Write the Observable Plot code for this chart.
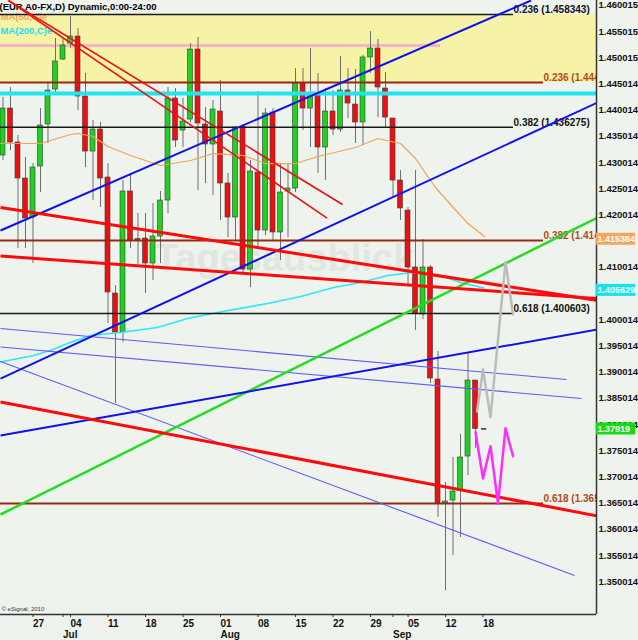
<!DOCTYPE html>
<html><head><meta charset="utf-8">
<script src="https://cdn.jsdelivr.net/npm/d3@7"></script>
<script src="https://cdn.jsdelivr.net/npm/@observablehq/plot@0.6"></script>
<style>
html,body{margin:0;padding:0;background:#eef4ed;}
#chart{width:638px;height:640px;overflow:hidden;}
</style></head><body><div id="chart"></div>
<script>
// ---- daily candles (trading-day index 0 = 21 Jun 2011 ... 63 = 16 Sep 2011)
const open = [1.43137,1.44034,1.43385,1.42698,1.41954,1.42927,1.43729,1.44397,1.44969,1.45275,
  1.45408,1.44263,1.43213,1.43633,1.42717,1.40503,1.39759,1.42450,1.41544,1.41553,
  1.41076,1.41591,1.42278,1.44225,1.43614,1.43824,1.45160,1.43729,1.43347,1.43977,
  1.42603,1.41954,1.43690,1.40961,1.42813,1.41706,1.43958,1.41668,1.42450,1.42507,
  1.44511,1.44034,1.44301,1.43290,1.43977,1.43633,1.44378,1.44110,1.43767,1.45008,
  1.45179,1.44416,1.43843,1.42660,1.42087,1.41000,1.40103,1.41000,1.38862,1.36496,
  1.36553,1.36744,1.37393,1.38843];
const high = [1.44244,1.44435,1.43519,1.43099,1.42984,1.44034,1.44531,1.45370,1.45370,1.45790,
  1.45561,1.44702,1.43805,1.43767,1.42984,1.40656,1.42660,1.42794,1.42030,1.42030,
  1.42221,1.42450,1.44435,1.44416,1.44225,1.45275,1.45389,1.44053,1.44187,1.44569,
  1.42794,1.43690,1.43729,1.43042,1.44358,1.44034,1.44034,1.42984,1.42984,1.44798,
  1.44798,1.45179,1.44702,1.44416,1.44378,1.45027,1.44798,1.44779,1.45046,1.45504,
  1.45351,1.44721,1.43843,1.42851,1.42145,1.42851,1.41534,1.41038,1.39397,1.36897,
  1.37374,1.37813,1.39378,1.38843];
const low = [1.43042,1.43232,1.41362,1.41362,1.41076,1.42431,1.43366,1.44339,1.44950,1.45179,
  1.43996,1.42908,1.42278,1.42145,1.39931,1.38404,1.39568,1.41362,1.41000,1.40503,
  1.40752,1.41076,1.42030,1.43290,1.43290,1.43767,1.42469,1.42603,1.42374,1.41897,
  1.41572,1.41515,1.40904,1.40618,1.41362,1.41610,1.41515,1.41133,1.41572,1.42431,
  1.43614,1.43290,1.42794,1.42660,1.43519,1.43576,1.43843,1.43366,1.43328,1.44702,
  1.43862,1.43652,1.42336,1.41897,1.40675,1.39797,1.40008,1.38786,1.36229,1.34835,
  1.35503,1.35847,1.37030,1.37545];
const close = [1.44034,1.43385,1.42698,1.41935,1.42908,1.43710,1.44378,1.44931,1.45236,1.45408,
  1.44263,1.43213,1.43633,1.42698,1.40523,1.39759,1.42450,1.41515,1.41524,1.41076,
  1.41591,1.42278,1.44225,1.43423,1.43786,1.45160,1.43748,1.43347,1.44015,1.42603,
  1.41954,1.43671,1.40961,1.42832,1.41706,1.43939,1.41668,1.42431,1.42507,1.44511,
  1.44034,1.44301,1.43290,1.43977,1.43633,1.44378,1.44129,1.43767,1.45008,1.45179,
  1.44435,1.43862,1.42660,1.42126,1.41000,1.40122,1.41000,1.38881,1.36496,1.36534,
  1.36725,1.37374,1.38843,1.37919];

// ---- moving averages (day index, value)
const ma50Idx = [-0.33,5,9,10,12,14,17,21,25,28,32,35,39,42,47,50,53,55,57,58,61,62,64.2];
const ma50Val = [1.43366,1.43366,1.43538,1.43557,1.43500,1.43309,1.43137,1.42946,1.43042,1.43175,1.43137,1.42984,1.42984,1.43118,1.43290,1.43462,1.43366,1.43080,1.42660,1.42469,1.41992,1.41839,1.41591];
const ma200Idx = [-0.33,4.1,6.3,8.6,11.7,15.7,20.6,24.6,30,35.3,39.7,44.1,47.7,51.3,54.7,58.3,61,64.1];
const ma200Val = [1.39196,1.39320,1.39416,1.39549,1.39702,1.39759,1.39855,1.40026,1.40179,1.40313,1.40446,1.40618,1.40713,1.40847,1.40904,1.40847,1.40713,1.40608];

// ---- forecast paths
const greyIdx = [63.2,64,65,67,68];
const greyVal = [1.38252,1.39053,1.38143,1.41105,1.40103];
const pinkPathIdx = [63,64,65,66,67,68];
const pinkPathVal = [1.37856,1.36973,1.37590,1.36490,1.37933,1.37399];

// ---- drawn trend lines [idx1, price1, idx2, price2]
const blueThick = [[-0.333,1.41706,70.4,1.46095],[-0.333,1.38881,79.27,1.44148],[-0.333,1.37794,79.27,1.39816]];
const blueThin = [[-0.333,1.39836,75.13,1.38862],[-0.333,1.39482,77.13,1.38500],[-0.333,1.39206,76.2,1.35122]];
const redThick = [[-0.333,1.42145,79.27,1.40370],[-0.333,1.41219,79.27,1.40408],[-0.333,1.38433,79.27,1.36258]];
const redThin = [[0.73,1.46095,45.27,1.42202],[0.73,1.46095,43.2,1.41942]];
const greenTrend = [[-0.333,1.36286,79.27,1.41954]];

// ---- horizontal levels
const zone = [1.44531, 1.45828];
const pinkLevel = 1.45236, pinkEnd = 58.33;
const cyanLevel = 1.44320;
const fibBlackLevels = [1.45828, 1.43677, 1.40122];
const fibBlackLabels = ["0.236 (1.458343)", "0.382 (1.436275)", "0.618 (1.400603)"];
const fibBlackEnd = 68.07;
const fibBrownLevels = [1.44531, 1.41515, 1.36496];
const fibBrownLabels = ["0.236 (1.444", "0.382 (1.414", "0.618 (1.365"];
const fibBrownEnd = 72.07;

// ---- axes (1.415014 and 1.405014 are hidden under the value boxes in the reference)
const yTicks = [1.350014,1.355014,1.360014,1.365014,1.370014,1.375014,1.380014,1.385014,1.390014,1.395014,
  1.400014,1.410014,1.420014,1.425014,1.430014,1.435014,1.440014,1.445014,1.450015,1.455015,1.460015];
const weekTickIdx = [4,9,14,19,24,29,34,39,44,49,54,59,64];
const weekTickLabels = ["27","04","11","18","25","01","08","15","22","29","05","12","18"];
const monthTickIdx = [8,29,52];
const monthLabels = ["Jul","Aug","Sep"];
const boxValues = [1.415384, 1.405629, 1.37919];
const boxLabels = ["1.415384", "1.405629", "1.37919"];
const boxColors = ["#f3a75c", "#14e4f0", "#14dc14"];

const xDomain = [-0.333, 79.13];
const yDomain = [1.343778, 1.460954];
const plotW = 596, plotH = 614;
const pxPerDay = plotW / (xDomain[1] - xDomain[0]);
const pxPerPrice = plotH / (yDomain[1] - yDomain[0]);

const candles = open.map((o, i) => ({i, o, h: high[i], l: low[i], c: close[i]}));
const ma50 = ma50Idx.map((x, k) => ({x, v: ma50Val[k]}));
const ma200 = ma200Idx.map((x, k) => ({x, v: ma200Val[k]}));
const grey = greyIdx.map((x, k) => ({x, v: greyVal[k]}));
const pinkPath = pinkPathIdx.map((x, k) => ({x, v: pinkPathVal[k]}));
const boxes = boxValues.map((v, k) => ({v, t: boxLabels[k], c: boxColors[k]}));

const link = (data, stroke, w, extra = {}) => Plot.link(data, {x1: d => d[0], y1: d => d[1], x2: d => d[2], y2: d => d[3], stroke, strokeWidth: w, clip: true, ...extra});

const chart = Plot.plot({
  width: 638, height: 640,
  marginLeft: 0, marginRight: 638 - plotW, marginTop: 0, marginBottom: 640 - plotH,
  x: {domain: xDomain, axis: null},
  y: {domain: yDomain, axis: null},
  color: {type: "identity"},
  style: {background: "#eef4ed", fontFamily: "'Liberation Sans', Arial, sans-serif", fontWeight: "bold", fontSize: "10px", color: "#111"},
  marks: [
    Plot.rect([zone], {y1: d => d[0], y2: d => d[1], fill: "#f7f3a6"}),
    Plot.text(["Tagesausblick"], {frameAnchor: "top-left", dx: 284, dy: 258, fontSize: 38, fill: "#e0e7e0", textAnchor: "middle", lineAnchor: "middle"}),
    Plot.ruleY([pinkLevel], {x1: xDomain[0], x2: pinkEnd, stroke: "#f2b6c8", strokeWidth: 3}),
    Plot.text(["(EUR A0-FX,D) Dynamic,0:00-24:00"], {frameAnchor: "top-left", dx: -1, dy: 2.5, lineAnchor: "top", textAnchor: "start", fontSize: 9.5, fill: "#000"}),
    Plot.text(["MA(50,C)e"], {frameAnchor: "top-left", dx: 0, dy: 13, lineAnchor: "top", textAnchor: "start", fontSize: 9.5, fill: "#f3a75c"}),
    Plot.text(["MA(200,C)e"], {frameAnchor: "top-left", dx: 0, dy: 26.5, lineAnchor: "top", textAnchor: "start", fontSize: 9.5, fill: "#14e4f0"}),
    // candles
    Plot.ruleX(candles, {x: "i", y1: "l", y2: "h", stroke: "#6e6e6e", strokeWidth: 1}),
    Plot.rect(candles, {x1: d => d.i - 0.333, x2: d => d.i + 0.333, y1: "o", y2: "c",
      fill: d => d.c >= d.o ? "#1fd21f" : "#ee1010", stroke: "#3a3a3a", strokeWidth: 0.6}),
    // moving averages
    Plot.line(ma200, {x: "x", y: "v", stroke: "#2ae8f5", strokeWidth: 1.6}),
    Plot.line(ma50, {x: "x", y: "v", stroke: "#f0a257", strokeWidth: 1.2}),
    // horizontal levels
    Plot.ruleY([cyanLevel], {stroke: "#1ee6f2", strokeWidth: 4}),
    Plot.ruleY(fibBlackLevels, {x1: xDomain[0], x2: fibBlackEnd, stroke: "#1a1a1a", strokeWidth: 1.5}),
    Plot.ruleY(fibBrownLevels, {x1: xDomain[0], x2: fibBrownEnd, stroke: "#952a12", strokeWidth: 2}),
    Plot.text(fibBlackLevels, {x: fibBlackEnd, y: d => d, text: (d, i) => fibBlackLabels[i], textAnchor: "start", lineAnchor: "bottom", dy: -1.5, fill: "#111", fontSize: 10}),
    Plot.text(fibBrownLevels, {x: fibBrownEnd, y: d => d, text: (d, i) => fibBrownLabels[i], textAnchor: "start", lineAnchor: "bottom", dy: -1.5, fill: "#b04a22", fontSize: 10, clip: true}),
    // trend lines
    link(blueThin, "#5c5cf5", 1.1),
    link(greenTrend, "#22dd22", 2.5),
    link(blueThick, "#1010ee", 2),
    link(redThin, "#ee1010", 1.6),
    link(redThick, "#ff0a0a", 3),
    // forecast paths
    Plot.line(grey, {x: "x", y: "v", stroke: "#bcbcbc", strokeWidth: 2.5}),
    Plot.line(pinkPath, {x: "x", y: "v", stroke: "#ff2cff", strokeWidth: 2.5}),
    Plot.ruleY([close[close.length - 1]], {x1: close.length - 1 + 0.8, x2: close.length - 1 + 1.5, stroke: "#000", strokeWidth: 1.2}),
    // frame
    Plot.ruleY([yDomain[0]], {stroke: "#333", strokeWidth: 1.5}),
    Plot.ruleX([xDomain[1]], {stroke: "#333", strokeWidth: 1.5}),
    Plot.text(["© eSignal, 2010"], {frameAnchor: "bottom-left", dx: 1, dy: -4, fontSize: 6, fontWeight: "normal", textAnchor: "start", fill: "#333"}),
    // axes
    Plot.axisY(yTicks, {anchor: "right", tickSize: 0, tickPadding: 2, tickFormat: d => d.toFixed(6), fontSize: 9.5, fill: "#111", label: null}),
    Plot.axisX(weekTickIdx, {anchor: "bottom", tickSize: 3, tickPadding: 2, tickFormat: d => weekTickLabels[weekTickIdx.indexOf(d)], textAnchor: "start", fontSize: 10, fill: "#111", stroke: "#333", label: null}),
    Plot.axisX(monthTickIdx, {anchor: "bottom", tickSize: 3, tickPadding: 13, tickFormat: d => monthLabels[monthTickIdx.indexOf(d)], textAnchor: "start", fontSize: 10, fill: "#111", stroke: "#333", label: null}),
    // last-value boxes
    Plot.rect(boxes, {x1: xDomain[1], x2: xDomain[1] + 39 / pxPerDay, y1: d => d.v - 6 / pxPerPrice, y2: d => d.v + 6 / pxPerPrice, fill: "c"}),
    Plot.text(boxes, {x: xDomain[1], y: "v", text: "t", dx: 1, textAnchor: "start", fill: "#fff", fontSize: 9, letterSpacing: "-0.2px"})
  ]
});
document.getElementById("chart").appendChild(chart);
</script>
</body></html>
